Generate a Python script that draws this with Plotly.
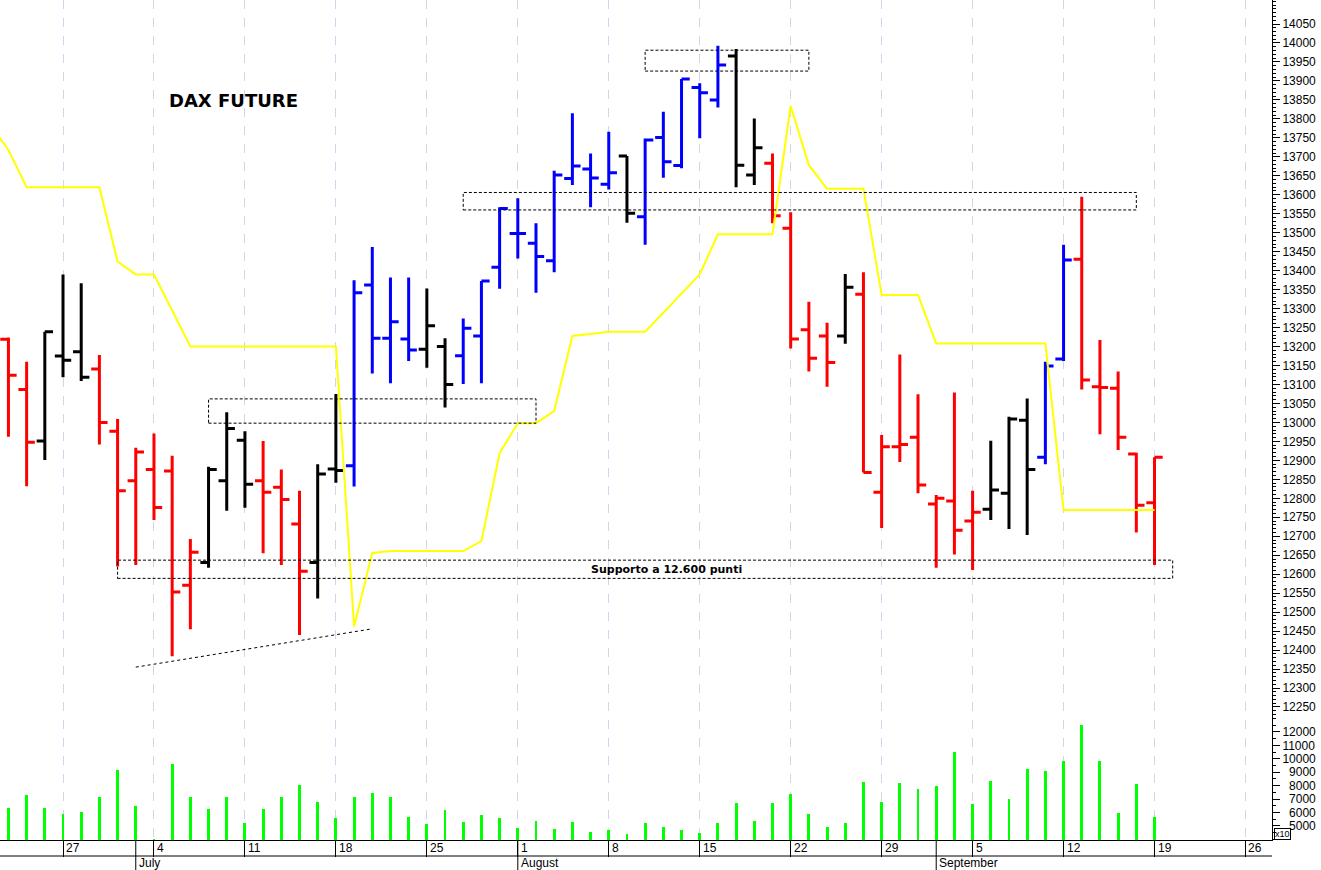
import pandas as pd
import plotly.graph_objects as go

# ---------------- data ----------------
dates = pd.bdate_range("2022-06-21", "2022-09-19")  # trading days (no holidays in range)
xdates = [d + pd.Timedelta(hours=12) for d in dates]

opens = [13180, 13219, 13087, 12951, 13175, 13186, 13141, 12977, 12846, 12876,
         12872, 12571, 12631, 12846, 12953, 12846, 12829, 12732, 12631, 12877,
         12886, 13362, 13222, 13220, 13193, 13200, 13176, 13228, 13409, 13498,
         13472, 13426, 13643, 13668, 13628, 13702, 13542, 13751, 13677, 13883,
         13850, 13966, 13652, 13683, 13512, 13244, 13228, 13228, 13338, 12816,
         12936, 12961, 12785, 12793, 12740, 12771, 12813, 13006, 12908, 13167,
         13430, 13094, 13090, 12917, 12788]
highs = [13290, 13224, 13160, 13239, 13390, 13367, 13178, 13009, 12933, 12971,
         12912, 12693, 12883, 13027, 12977, 12951, 12876, 12820, 12890, 13075,
         13375, 13462, 13382, 13382, 13353, 13222, 13274, 13373, 13567, 13591,
         13525, 13663, 13815, 13709, 13766, 13702, 13748, 13819, 13905, 13894,
         13993, 13984, 13801, 13709, 13554, 13318, 13263, 13391, 13396, 12967,
         13179, 13074, 12809, 13079, 12820, 12952, 13015, 13063, 13160, 13468,
         13595, 13217, 13134, 12920, 12908]
lows = [13150, 12962, 12832, 12901, 13119, 13109, 12942, 12620, 12624, 12743,
        12384, 12455, 12617, 12767, 12775, 12655, 12624, 12440, 12536, 12841,
        12831, 13129, 13103, 13162, 13144, 13039, 13101, 13103, 13352, 13432,
        13342, 13396, 13626, 13567, 13614, 13526, 13468, 13645, 13670, 13749,
        13830, 13620, 13626, 13525, 13195, 13134, 13094, 13207, 12868, 12722,
        12896, 12813, 12617, 12652, 12611, 12743, 12719, 12703, 12890, 13162,
        13087, 12969, 12927, 12710, 12624]
closes = [13250, 13124, 12948, 13239, 13164, 13119, 13000, 12820, 12922, 12776,
          12553, 12658, 12876, 12984, 12837, 12816, 12797, 12608, 12864, 12873,
          13342, 13222, 13265, 13191, 13255, 13100, 13248, 13373, 13564, 13498,
          13437, 13652, 13676, 13644, 13658, 13551, 13744, 13687, 13905, 13869,
          13942, 13678, 13724, 13545, 13220, 13169, 13158, 13356, 12868, 12936,
          12942, 12835, 12800, 12716, 12763, 12822, 13009, 12876, 13149, 13428,
          13112, 13092, 12961, 12782, 12908]
bar_colors = ["k", "r", "r", "k", "k", "k", "r", "r", "r", "r",
              "r", "r", "k", "k", "k", "r", "r", "r", "k", "k",
              "b", "b", "b", "b", "k", "k", "b", "b", "b", "b",
              "b", "b", "b", "b", "b", "k", "b", "b", "b", "b",
              "b", "k", "k", "r", "r", "r", "r", "k", "r", "r",
              "r", "r", "r", "r", "r", "k", "k", "k", "b", "b",
              "r", "r", "r", "r", "r"]
stop_line = [13785, 13718, 13620, 13620, 13620, 13620, 13620, 13424, 13390, 13390,
             13295, 13200, 13200, 13200, 13200, 13200, 13200, 13200, 13200, 13200,
             12462, 12656, 12661, 12661, 12661, 12661, 12661, 12687, 12919, 12998,
             12998, 13030, 13228, 13233, 13239, 13239, 13239, 13289, 13340, 13390,
             13496, 13496, 13496, 13496, 13834, 13678, 13616, 13616, 13616, 13336,
             13336, 13336, 13208, 13208, 13208, 13208, 13208, 13208, 13208, 12769,
             12769, 12769, 12769, 12769, 12769]
volume = [6000, 6319, 7309, 6319, 5872, 6021, 7160, 9171, 6512, 4030,
          9595, 7160, 6244, 7160, 5224, 6244, 7160, 8054, 6765, 5596,
          7160, 7458, 7160, 5649, 5150, 6170, 5276, 5797, 5596, 4829,
          5373, 4755, 5300, 4576, 4680, 4383, 5200, 4926, 4725, 4457,
          5224, 6736, 5350, 6736, 7383, 5894, 4904, 5224, 8277, 6787,
          8203, 7733, 7979, 10488, 6661, 8351, 7011, 9245, 9096, 9818,
          12521, 9840, 5969, 8106, 5671]

monday_ticks = ["2022-06-27", "2022-07-04", "2022-07-11", "2022-07-18", "2022-07-25",
                "2022-08-01", "2022-08-08", "2022-08-15", "2022-08-22", "2022-08-29",
                "2022-09-05", "2022-09-12", "2022-09-19", "2022-09-26"]
monday_labels = ["27", "4", "11", "18", "25", "1", "8", "15", "22", "29", "5", "12", "19", "26"]
month_starts = ["2022-07-01", "2022-08-01", "2022-09-01"]
month_labels = ["July", "August", "September"]

price_ticks = list(range(12250, 14051, 50))
vol_ticks = [5000, 6000, 7000, 8000, 9000, 10000, 11000, 12000]

# dashed zones: (start, end, low, high)
zones = [("2022-08-10 12:00", "2022-08-23 12:00", 13926, 13981),
         ("2022-07-27 12:00", "2022-09-16 12:00", 13560, 13606),
         ("2022-07-07 12:00", "2022-08-02 12:00", 12998, 13062),
         ("2022-06-30 12:00", "2022-09-20 12:00", 12589, 12637)]
trend_line = [("2022-07-01 12:00", 12355), ("2022-07-20 12:00", 12456)]
support_label = "Supporto a 12.600 punti"
support_level = 12612
title_text = "DAX FUTURE"

# ---------------- figure ----------------
def noon(d):
    return pd.Timestamp(d) + pd.Timedelta(hours=12)

fig = go.Figure()

fig.add_trace(go.Scatter(x=xdates, y=stop_line, mode="lines",
                         line=dict(color="#ffff00", width=2), hoverinfo="skip",
                         xaxis="x", yaxis="y"))

palette = {"r": "#ff0000", "k": "#000000", "b": "#0000ff"}
for key, col in palette.items():
    idx = [i for i, c in enumerate(bar_colors) if c == key]
    fig.add_trace(go.Ohlc(
        x=[xdates[i] for i in idx],
        open=[opens[i] for i in idx], high=[highs[i] for i in idx],
        low=[lows[i] for i in idx], close=[closes[i] for i in idx],
        increasing=dict(line=dict(color=col, width=3)),
        decreasing=dict(line=dict(color=col, width=3)),
        tickwidth=0.45, xaxis="x", yaxis="y", hoverinfo="skip"))

fig.add_trace(go.Bar(x=xdates, y=volume, width=0.16 * 86400000,
                     marker=dict(color="#00ff00", line=dict(width=0)),
                     xaxis="x", yaxis="y2", hoverinfo="skip"))

shapes = []
for x0, x1, lo, hi in zones:
    shapes.append(dict(type="rect", xref="x", yref="y", x0=x0, x1=x1, y0=lo, y1=hi,
                       line=dict(color="black", width=1, dash="3px,2px"),
                       fillcolor="rgba(0,0,0,0)", layer="above"))
shapes.append(dict(type="line", xref="x", yref="y",
                   x0=trend_line[0][0], y0=trend_line[0][1],
                   x1=trend_line[1][0], y1=trend_line[1][1],
                   line=dict(color="black", width=1, dash="3px,3px")))
# second row separator of the time axis
shapes.append(dict(type="line", xref="paper", yref="paper", x0=0, x1=1,
                   y0=-16 / 840, y1=-16 / 840, line=dict(color="black", width=1)))
for m in month_starts:
    shapes.append(dict(type="line", xref="x", yref="paper", x0=noon(m), x1=noon(m),
                       y0=0, y1=-30 / 840, line=dict(color="black", width=1)))

annotations = []
for d, lab in zip(monday_ticks, monday_labels):
    annotations.append(dict(x=noon(d), y=-8 / 840, xref="x", yref="paper", text=lab,
                            showarrow=False, xanchor="left", yanchor="middle", xshift=1,
                            font=dict(family="Liberation Sans", size=12, color="black")))
for m, lab in zip(month_starts, month_labels):
    annotations.append(dict(x=noon(m), y=-23 / 840, xref="x", yref="paper", text=lab,
                            showarrow=False, xanchor="left", yanchor="middle", xshift=1,
                            font=dict(family="Liberation Sans", size=12, color="black")))
annotations.append(dict(x=234 / 1272, y=(840 - 100) / 840, xref="paper", yref="paper",
                        text="<b>" + title_text + "</b>", showarrow=False,
                        xanchor="center", yanchor="middle",
                        font=dict(family="DejaVu Sans", size=18, color="black")))
annotations.append(dict(x=666 / 1272, y=support_level, xref="paper", yref="y",
                        text="<b>" + support_label + "</b>", showarrow=False,
                        xanchor="center", yanchor="middle",
                        font=dict(family="DejaVu Sans", size=11, color="black")))
annotations.append(dict(x=1274 / 1272, y=0.5 / 840, xref="paper", yref="paper", text="x10",
                        showarrow=False, xanchor="left", yanchor="bottom",
                        bordercolor="black", borderwidth=1, borderpad=0,
                        font=dict(family="Liberation Sans", size=9, color="black")))

vol_text = [("\u2007" if v < 10000 else "") + str(v) for v in vol_ticks]

fig.update_layout(
    width=1321, height=870,
    margin=dict(l=0, r=49, t=0, b=30),
    paper_bgcolor="white", plot_bgcolor="white",
    showlegend=False, bargap=0,
    shapes=shapes, annotations=annotations,
    xaxis=dict(type="date", range=["2022-06-22 00:52", "2022-09-27 23:00"],
               rangebreaks=[dict(bounds=["sat", "mon"])],
               rangeslider=dict(visible=False), anchor="y2",
               tickvals=[noon(d) for d in monday_ticks], ticks="outside", ticklen=16,
               tickcolor="black", tickwidth=1, showticklabels=False,
               showgrid=True, gridcolor="#d3d3ec", griddash="dash", gridwidth=1,
               showline=True, linecolor="black", linewidth=1, zeroline=False,
               fixedrange=True),
    yaxis=dict(domain=[120 / 840, 1], range=[12215.7, 14113.3], side="right", anchor="x",
               tickmode="array", tickvals=price_ticks, tickformat="d",
               ticks="outside", ticklen=7, tickcolor="black",
               minor=dict(tickmode="linear", tick0=0, dtick=10, ticklen=3,
                          ticks="outside", tickcolor="black", showgrid=False),
               showgrid=False, showline=True, linecolor="black", zeroline=False,
               tickfont=dict(family="Liberation Sans", size=12, color="black")),
    yaxis2=dict(domain=[0, 120 / 840], range=[3957, 12893], side="right", anchor="x",
                tickmode="array", tickvals=vol_ticks, ticktext=vol_text,
                ticks="outside", ticklen=7, tickcolor="black",
                minor=dict(tickmode="linear", tick0=0, dtick=500, ticklen=3,
                           ticks="outside", tickcolor="black", showgrid=False),
                showgrid=False, showline=True, linecolor="black", zeroline=False,
                tickfont=dict(family="Liberation Sans", size=12, color="black")),
)

fig.write_html("out.html", config={"displayModeBar": False},
               post_script="document.body.style.margin='0';document.body.style.padding='0';")
